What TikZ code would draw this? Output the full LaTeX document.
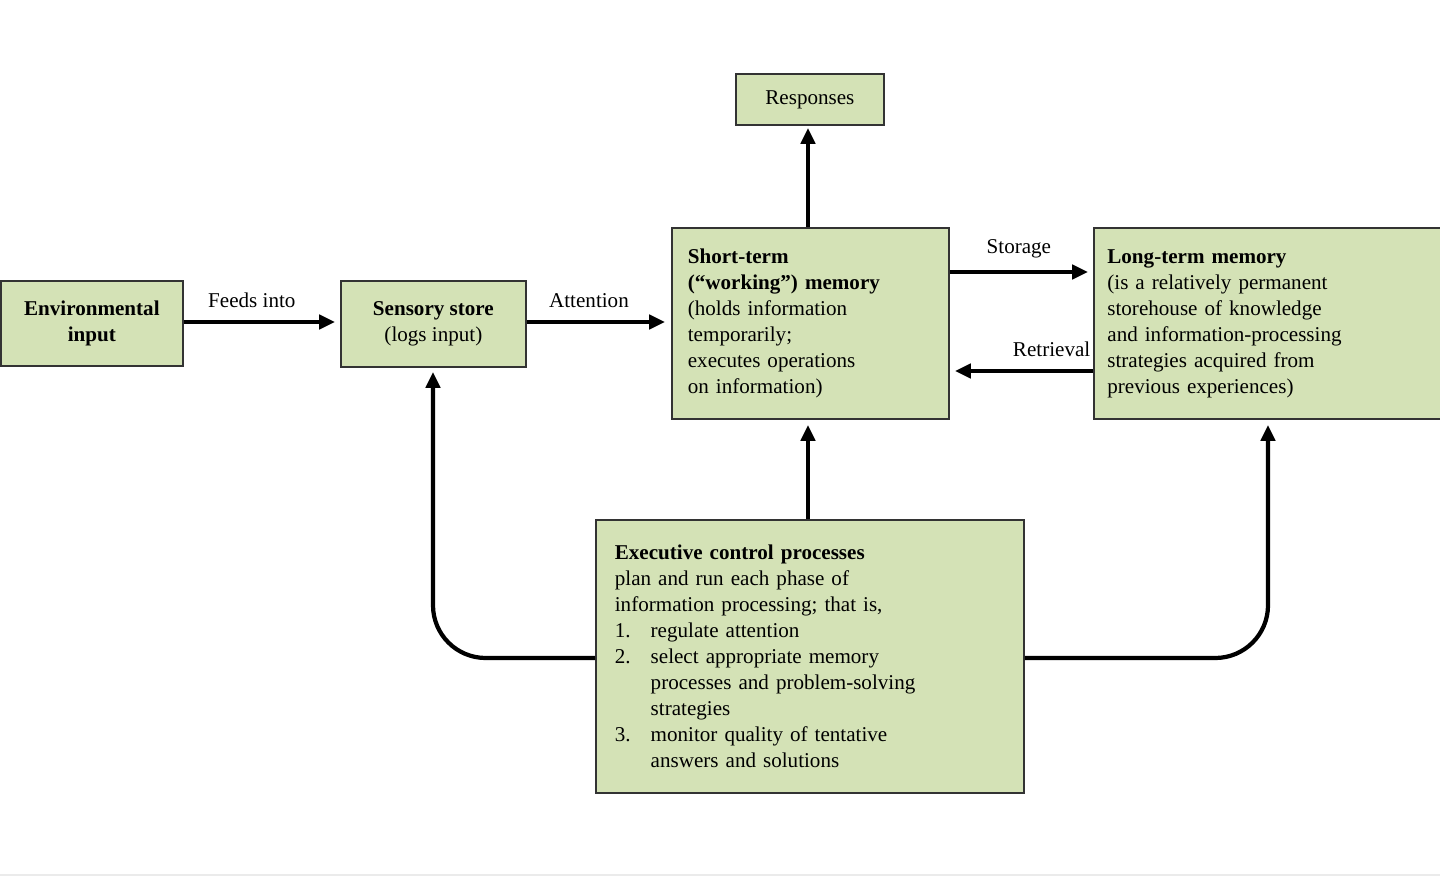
\documentclass[tikz,border=0pt]{standalone}
\usepackage{fontspec}
\setmainfont{Liberation Serif}
\usetikzlibrary{arrows.meta}
\definecolor{boxg}{HTML}{D4E2B6}
\tikzset{
  box/.style={draw=black!80, line width=1pt, fill=boxg, inner sep=0pt, align=left, font=\fontsize{12}{14.8}\selectfont},
  arr/.style={line width=2.4pt, -{Triangle[length=9pt,width=8pt]}},
  lab/.style={font=\fontsize{12}{14}\selectfont, inner sep=1pt}
}
\begin{document}
\begin{tikzpicture}[x=0.02cm,y=-0.02cm]
\useasboundingbox (0,0) rectangle (1440,895);
\draw[black!8, line width=1pt] (0,875) -- (1440,875);
\node[box, minimum width=182*0.02cm, minimum height=85*0.02cm, anchor=north west, align=center] (env) at (0,280) {\textbf{Environmental}\\\textbf{input}};
\node[box, minimum width=185*0.02cm, minimum height=86*0.02cm, anchor=north west, align=center] (sen) at (340,280) {\textbf{Sensory store}\\(logs input)};
\node[box, minimum width=148*0.02cm, minimum height=51*0.02cm, anchor=north west, align=center] (res) at (735,73) {Responses};
\node[box, minimum width=277*0.02cm, minimum height=191*0.02cm, anchor=north west, text width=245*0.02cm] (stm) at (671,227)
 {\textbf{Short-term}\\\textbf{(``working'') memory}\\(holds information\\temporarily;\\executes operations\\on information)};
\node[box, minimum width=347*0.02cm, minimum height=191*0.02cm, anchor=north west, text width=320*0.02cm] (ltm) at (1093,227)
 {\textbf{Long-term memory}\\(is a relatively permanent\\storehouse of knowledge\\and information-processing\\strategies acquired from\\previous experiences)};
\node[box, minimum width=428*0.02cm, minimum height=273*0.02cm, anchor=north west, text width=390*0.02cm] (exe) at (595,519)
 {\textbf{Executive control processes}\\plan and run each phase of\\information processing; that is,\\
 \makebox[1.7em][l]{1.}regulate attention\\
 \makebox[1.7em][l]{2.}select appropriate memory\\\hspace*{1.7em}processes and problem-solving\\\hspace*{1.7em}strategies\\
 \makebox[1.7em][l]{3.}monitor quality of tentative\\\hspace*{1.7em}answers and solutions};
\coordinate (sL) at (433,372);
\coordinate (lL) at (1268,425);
\draw[arr] (env.east |- 0,322) -- (335,322) node[lab, pos=0.45, above=6pt]{Feeds into};
\draw[arr] (sen.east |- 0,322) -- (665,322) node[lab, pos=0.45, above=6pt]{Attention};
\draw[arr] (stm.north -| 808,0) -- (808,128);
\draw[arr] (stm.east |- 0,272) -- (1088,272) node[lab, midway, above=6pt]{Storage};
\draw[arr] (ltm.west |- 0,371) -- (955,371) node[lab, pos=0.3, above=6pt]{Retrieval};
\draw[arr] (exe.north -| 808,0) -- (808,425);
\draw[arr, rounded corners=30pt] (exe.west |- 0,658) -- (433,658) -- (sL);
\draw[arr, rounded corners=30pt] (exe.east |- 0,658) -- (1268,658) -- (lL);
\end{tikzpicture}
\end{document}
